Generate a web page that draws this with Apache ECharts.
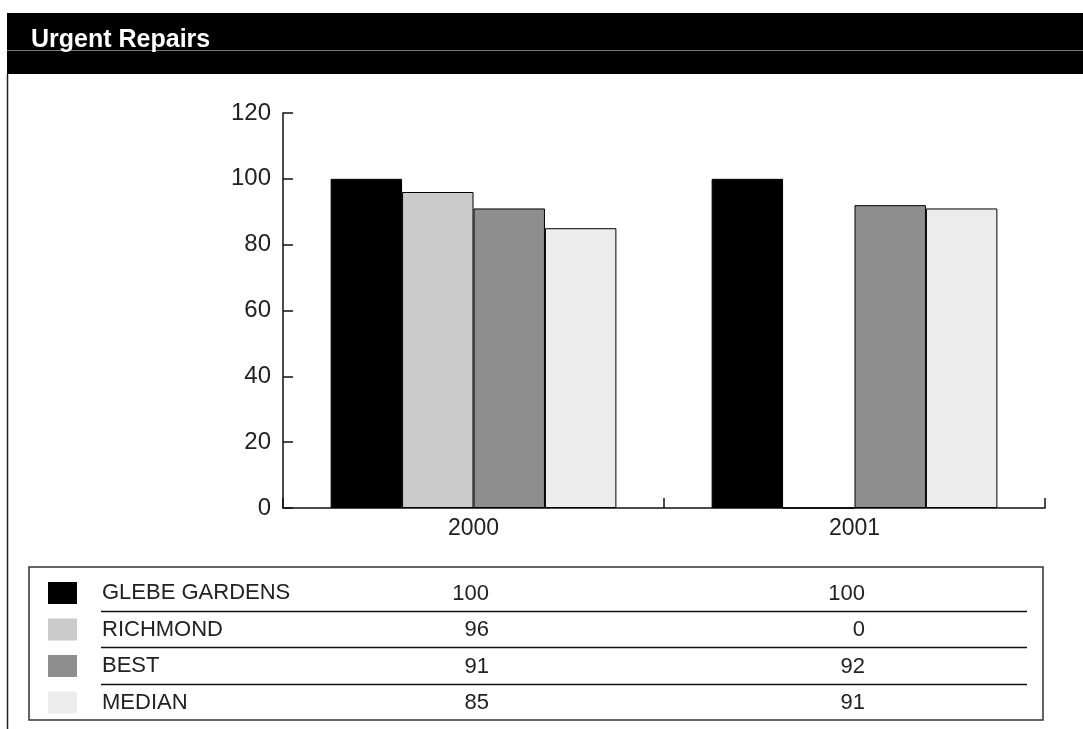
<!DOCTYPE html>
<html lang="en">
<head>
  <meta charset="UTF-8">
  <title>Urgent Repairs</title>
  <script src="https://cdn.jsdelivr.net/npm/echarts@6/dist/echarts.min.js"></script>
  <style>
    html, body { margin: 0; padding: 0; background: #fff; }
    #main { width: 1083px; height: 729px; }
  </style>
</head>
<body>
  <div id="main"></div>
  <script>
    // data
    var years = ['2000', '2001'];
    var seriesNames = ['GLEBE GARDENS', 'RICHMOND', 'BEST', 'MEDIAN'];
    var glebeGardens = [100, 100];
    var richmond = [96, 0];
    var best = [91, 92];
    var median = [85, 91];
    var yTicks = [0, 20, 40, 60, 80, 100, 120];

    var seriesValues = [glebeGardens, richmond, best, median];
    var colors = ['#000000', '#cbcbcb', '#8e8e8e', '#ececec'];
    var font = 'Liberation Sans';

    var myChart = echarts.init(document.getElementById('main'));

    // table rows under the chart
    var rowTop = 575;     // top of first row
    var rowH = 36.5;
    var colRight = [489, 865];
    var tableGraphics = [];

    // header band + frame
    tableGraphics.push(
      { type: 'rect', shape: { x: 7, y: 13, width: 1076, height: 61 }, style: { fill: '#000' }, silent: true },
      { type: 'line', shape: { x1: 7, y1: 50.5, x2: 1083, y2: 50.5 }, style: { stroke: '#777', lineWidth: 1 }, silent: true, z: 5 },
      {
        type: 'text', x: 31, y: 40, z: 10,
        style: { text: 'Urgent Repairs', fill: '#fff', fontSize: 25, fontWeight: 'bold', fontFamily: font, align: 'left', verticalAlign: 'middle' }
      },
      { type: 'line', shape: { x1: 7.5, y1: 74, x2: 7.5, y2: 729 }, style: { stroke: '#222', lineWidth: 1.5 }, silent: true },
      { type: 'rect', shape: { x: 29, y: 567, width: 1014, height: 153 }, style: { fill: 'none', stroke: '#333', lineWidth: 1.5 }, silent: true }
    );

    seriesNames.forEach(function (name, i) {
      var cy = rowTop + rowH * i + 18.5;
      seriesValues[i].forEach(function (v, j) {
        tableGraphics.push({
          type: 'text',
          x: colRight[j],
          y: cy,
          style: { text: String(v), fill: '#222', fontSize: 22, fontFamily: font, align: 'right', verticalAlign: 'middle' }
        });
      });
      if (i < seriesNames.length - 1) {
        var ly = Math.round(rowTop + rowH * (i + 1)) - 0.5;
        tableGraphics.push({
          type: 'line',
          shape: { x1: 101, y1: ly, x2: 1027, y2: ly },
          style: { stroke: '#111', lineWidth: 1.5 },
          silent: true
        });
      }
    });

    myChart.setOption({
      animation: false,
      textStyle: { fontFamily: font },
      color: colors,
      grid: { left: 283, right: 38, top: 113, bottom: 221, containLabel: false },
      legend: {
        orient: 'vertical',
        left: 48,
        top: rowTop + 7,
        padding: 0,
        itemWidth: 29,
        itemHeight: 22,
        itemGap: 14.5,
        icon: 'rect',
        selectedMode: false,
        data: seriesNames,
        itemStyle: { borderWidth: 0 },
        textStyle: { fontSize: 22, color: '#222', padding: [0, 0, 0, 20], fontFamily: font }
      },
      xAxis: {
        type: 'category',
        data: years,
        axisLine: { lineStyle: { color: '#111', width: 1.5 } },
        axisTick: { show: true, inside: true, length: 10, lineStyle: { color: '#111', width: 1.5 } },
        axisLabel: { fontSize: 23, color: '#222', margin: 9 },
        splitLine: { show: false }
      },
      yAxis: {
        type: 'value',
        min: yTicks[0],
        max: yTicks[yTicks.length - 1],
        interval: yTicks[1] - yTicks[0],
        axisLine: { show: true, lineStyle: { color: '#111', width: 1.5 } },
        axisTick: { show: true, inside: true, length: 10, lineStyle: { color: '#111', width: 1.5 } },
        axisLabel: { fontSize: 24, color: '#222', margin: 12 },
        splitLine: { show: false }
      },
      series: seriesNames.map(function (name, i) {
        return {
          name: name,
          type: 'bar',
          data: seriesValues[i],
          barGap: '0%',
          barCategoryGap: '25%',
          itemStyle: { color: colors[i], borderColor: '#000', borderWidth: 1 }
        };
      }),
      graphic: tableGraphics
    });
  </script>
</body>
</html>
